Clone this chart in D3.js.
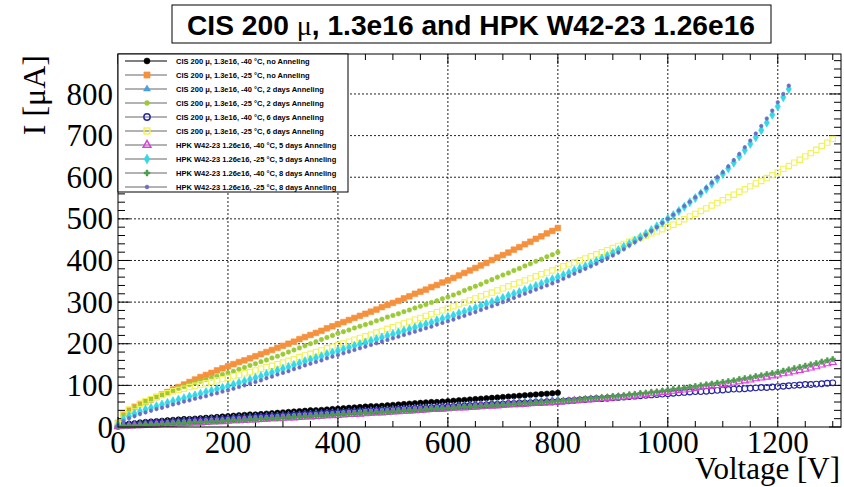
<!DOCTYPE html>
<html>
<head>
<meta charset="utf-8">
<script src="https://cdn.jsdelivr.net/npm/d3@7"></script>
<style>
  body { margin: 0; background: #fff; }
  .tick-label { font-family: "Liberation Serif", "Times New Roman", serif; font-size: 31px; fill: #000; }
  .legend-text { font-family: "Liberation Sans", Arial, sans-serif; font-size: 7.5px; font-weight: bold; fill: #000; }
</style>
</head>
<body>
<div id="chart"></div>
<script>
// voltage step of the measurements (V), every series starts at 0 V
const vStep = 10;

const seriesNames = [
  "CIS 200 μ, 1.3e16, -40 °C, no Anneling",
  "CIS 200 μ, 1.3e16, -25 °C, no Anneling",
  "CIS 200 μ, 1.3e16, -40 °C, 2 days Anneling",
  "CIS 200 μ, 1.3e16, -25 °C, 2 days Anneling",
  "CIS 200 μ, 1.3e16, -40 °C, 6 days Anneling",
  "CIS 200 μ, 1.3e16, -25 °C, 6 days Anneling",
  "HPK W42-23 1.26e16, -40 °C, 5 days Anneling",
  "HPK W42-23 1.26e16, -25 °C, 5 days Anneling",
  "HPK W42-23 1.26e16, -40 °C, 8 days Anneling",
  "HPK W42-23 1.26e16, -25 °C, 8 days Anneling"
];

// currents in uA
const cisM40NoAnn = [2,6,8,9,11,12,13,14,15,16,17,
  18,19,19,20,21,22,23,24,25,26, 27,28,29,30,30,31,32,33,34,35,
  36,37,38,39,40,40,41,42,43,44, 45,46,47,48,49,50,50,51,52,53,
  54,55,56,57,58,59,60,60,61,62, 63,64,65,66,67,68,69,70,71,72,
  73,74,75,76,77,78,79,80,81,82];

const cisM25NoAnn = [10,30,40,48,55,60,66,72,78,84,90,
  96,102,108,114,120,125,130,136,141,146, 151,156,160,165,170,175,180,185,190,195,
  200,205,211,216,221,226,231,237,242,247, 252,257,262,267,272,277,282,288,293,298,
  303,309,314,320,325,330,336,341,347,352, 358,364,370,376,382,388,394,401,407,413,
  419,426,432,439,445,452,458,465,471,478];

const cisM40Ann2 = [2,4,6,7,8,9,10,11,12,12,13,
  14,15,16,16,17,18,19,20,20,21, 22,23,23,24,25,25,26,27,27,28,
  29,30,30,31,32,33,33,34,35,36, 36,37,38,38,39,40,41,41,42,43,
  44,44,45,46,47,47,48,49,50,51, 51,52,53,54,54,55,56,56,57,58,
  59,60,60,61,62,63,63,64,65,66];

const cisM25Ann2 = [8,28,38,46,53,59,65,71,77,82,88,
  93,97,102,106,110,114,118,122,126,130, 134,139,143,148,152,157,161,166,170,175,
  180,185,190,195,200,205,210,215,220,225, 229,233,238,242,246,250,255,259,264,268,
  272,277,281,286,290,294,299,303,308,312, 317,322,328,333,338,343,349,354,360,365,
  370,376,381,387,392,398,403,409,414,420];

const cisM40Ann6 = [2,4,5,6,7,8,9,10,10,11,12,
  13,13,14,15,15,16,17,17,18,19, 20,21,21,22,23,24,24,25,26,27,
  27,28,29,30,30,31,32,33,33,34, 35,36,36,37,38,38,39,40,40,41,
  42,43,43,44,45,45,46,47,47,48, 49,50,50,51,52,52,53,54,54,55,
  56,56,57,57,58,59,59,60,60,61, 62,63,64,65,66,67,68,68,69,70,
  71,72,73,74,75,76,77,78,79,80, 81,82,83,84,85,85,86,87,88,89,
  90,91,91,92,93,94,95,95,96,97, 98,99,100,101,102,102,103,104,105,106];

const cisM25Ann6 = [8,30,42,50,56,62,67,72,77,81,86,
  89,92,96,99,102,105,108,112,115,118, 122,125,129,132,136,140,144,147,151,155,
  159,163,168,172,176,180,184,189,193,197, 201,205,210,214,218,222,227,231,236,240,
  244,249,253,258,262,267,271,276,280,285, 290,295,299,304,309,314,319,323,328,333,
  338,343,347,352,357,362,367,371,376,381, 386,391,395,400,405,410,415,420,425,430,
  435,440,445,450,455,460,465,470,475,480, 486,493,499,506,512,519,525,532,538,545,
  552,558,565,571,578,585,591,598,605,612, 620,627,635,642,650,658,666,675,683,692];

const hpkM40Ann5 = [1,2,2,3,3,4,5,5,6,6,7,
  8,8,9,10,10,11,12,13,13,14, 15,15,16,17,17,18,19,20,20,21,
  22,22,23,24,24,25,26,27,27,28, 29,30,30,31,32,33,34,34,35,36,
  37,38,38,39,40,41,42,42,43,44, 45,46,46,47,48,49,50,50,51,52,
  53,54,54,55,56,57,58,58,59,60, 61,62,63,64,65,66,67,68,69,70,
  71,72,74,75,77,78,80,81,83,84, 86,88,89,91,93,95,97,98,100,102,
  104,106,109,111,113,116,118,120,123,125, 128,130,133,136,139,142,145,149,152,155];

const hpkM25Ann5 = [5,18,26,32,37,42,46,50,54,58,62,
  66,69,73,76,80,84,87,91,94,98, 102,106,110,114,118,122,127,131,136,140,
  144,149,153,158,162,166,170,175,179,183, 187,191,195,199,203,207,211,215,219,223,
  227,231,235,239,243,247,251,256,260,264, 268,273,277,282,286,291,296,300,305,310,
  315,320,324,329,334,339,344,350,355,360, 365,370,376,381,386,392,398,405,411,418,
  425,433,440,448,456,464,473,482,491,500, 509,519,529,540,550,561,572,584,596,608,
  621,635,650,665,680,696,713,731,750,770, 792,812];

const hpkM40Ann8 = [1,2,3,3,4,5,5,6,7,7,8,
  9,9,10,11,11,12,13,13,14,15, 16,16,17,18,18,19,20,21,21,22,
  23,24,24,25,26,27,27,28,29,30, 31,31,32,33,34,34,35,36,36,37,
  38,39,40,40,41,42,43,44,44,45, 46,47,48,48,49,50,51,52,52,53,
  54,55,56,57,57,58,59,60,61,62, 63,64,65,66,68,69,70,71,72,74,
  75,76,78,79,81,82,84,85,87,89, 91,92,94,96,98,100,102,104,106,108,
  110,112,115,117,119,122,124,127,129,132, 135,138,141,144,147,150,153,157,160,163];

const hpkM25Ann8 = [3,14,21,26,31,35,39,43,46,50,54,
  57,61,64,68,71,74,78,81,85,88, 92,96,100,104,108,112,117,121,126,130,
  134,139,143,148,152,156,160,165,169,173, 177,181,185,189,193,197,201,205,209,213,
  217,221,225,229,233,237,241,246,250,254, 258,263,267,272,276,281,286,290,295,300,
  305,310,315,320,325,330,335,340,345,350, 356,362,368,374,380,386,392,399,405,412,
  419,427,436,444,452,461,471,480,490,500, 510,520,531,541,552,563,575,587,600,612,
  626,641,656,672,688,705,723,741,760,780, 800,820];

const xTicks = [0, 200, 400, 600, 800, 1000, 1200];
const yTicks = [0, 100, 200, 300, 400, 500, 600, 700, 800];

const allSeries = [cisM40NoAnn, cisM25NoAnn, cisM40Ann2, cisM25Ann2, cisM40Ann6,
  cisM25Ann6, hpkM40Ann5, hpkM25Ann5, hpkM40Ann8, hpkM25Ann8];

// marker look per series (ROOT-like)
const markerStyle = [
  { color: "#000000", type: d3.symbolCircle, size: 24, open: false },
  { color: "#f5913c", type: d3.symbolSquare, size: 32, open: false },
  { color: "#4a9fe0", type: d3.symbolTriangle, size: 18, open: false },
  { color: "#9cc936", type: d3.symbolCircle, size: 16, open: false },
  { color: "#2626a6", type: d3.symbolCircle, size: 26, open: true },
  { color: "#f2f25a", type: d3.symbolSquare, size: 28, open: true },
  { color: "#dd3fdd", type: d3.symbolTriangle, size: 22, open: true },
  { color: "#35d8e6", type: d3.symbolDiamond, size: 24, open: false },
  { color: "#4f9e4f", type: d3.symbolCross, size: 16, open: false },
  { color: "#6c6cc4", type: d3.symbolCircle, size: 10, open: false }
];

const width = 844, height = 487;
const margin = { left: 118, right: 3, top: 54, bottom: 60 };

const svg = d3.select("#chart").append("svg")
  .attr("width", width)
  .attr("height", height);

const x = d3.scaleLinear().domain([0, 1315]).range([margin.left, width - margin.right]);
const y = d3.scaleLinear().domain([0, 896]).range([height - margin.bottom, margin.top]);

const x0 = x.range()[0], x1 = x.range()[1];
const y0 = y.range()[0], y1 = y.range()[1];

// grid
const grid = svg.append("g").attr("stroke", "#222").attr("stroke-dasharray", "2,2").attr("stroke-width", 1);
xTicks.filter(t => t > 0).forEach(t => {
  grid.append("line").attr("x1", x(t)).attr("x2", x(t)).attr("y1", y0).attr("y2", y1);
});
yTicks.filter(t => t > 0).forEach(t => {
  grid.append("line").attr("x1", x0).attr("x2", x1).attr("y1", y(t)).attr("y2", y(t));
});

// axes ticks on all four sides
const tickG = svg.append("g").attr("stroke", "#000").attr("stroke-width", 1);
d3.range(0, 1301, 50).forEach(v => {
  const len = v % 200 === 0 ? 10 : 6;
  tickG.append("line").attr("x1", x(v)).attr("x2", x(v)).attr("y1", y0).attr("y2", y0 - len);
  tickG.append("line").attr("x1", x(v)).attr("x2", x(v)).attr("y1", y1).attr("y2", y1 + len);
});
d3.range(0, 881, 20).forEach(v => {
  const len = v % 100 === 0 ? 12 : 7;
  tickG.append("line").attr("x1", x0).attr("x2", x0 + len).attr("y1", y(v)).attr("y2", y(v));
  tickG.append("line").attr("x1", x1).attr("x2", x1 - len).attr("y1", y(v)).attr("y2", y(v));
});

// data points
allSeries.forEach((vals, i) => {
  const st = markerStyle[i];
  const sym = d3.symbol().type(st.type).size(st.size);
  svg.append("g")
    .selectAll("path")
    .data(vals)
    .enter().append("path")
    .attr("transform", (d, j) => `translate(${x(j * vStep)},${y(d)})`)
    .attr("d", sym)
    .attr("fill", st.open ? "none" : st.color)
    .attr("stroke", st.color)
    .attr("stroke-width", st.open ? 1.1 : 0.6);
});

// frame
svg.append("rect")
  .attr("x", x0).attr("y", y1)
  .attr("width", x1 - x0).attr("height", y0 - y1)
  .attr("fill", "none").attr("stroke", "#000").attr("stroke-width", 1);

// tick labels
svg.append("g").selectAll("text").data(yTicks).enter().append("text")
  .attr("class", "tick-label")
  .attr("x", 113).attr("y", d => y(d))
  .attr("dy", "0.34em")
  .attr("text-anchor", "end")
  .text(d => d);

svg.append("g").selectAll("text").data(xTicks).enter().append("text")
  .attr("class", "tick-label")
  .attr("x", d => x(d)).attr("y", 453)
  .attr("text-anchor", "middle")
  .text(d => d);

// axis titles
svg.append("text")
  .attr("class", "tick-label")
  .attr("x", 840).attr("y", 479)
  .attr("text-anchor", "end")
  .style("font-size", "31px")
  .text("Voltage [V]");

svg.append("text")
  .attr("class", "tick-label")
  .attr("transform", "translate(45,55) rotate(-90)")
  .attr("text-anchor", "end")
  .style("font-size", "32px")
  .text("I [μA]");

// title box
svg.append("rect")
  .attr("x", 172).attr("y", 5).attr("width", 599).attr("height", 38)
  .attr("fill", "#fff").attr("stroke", "#000").attr("stroke-width", 1);
const title = svg.append("text")
  .attr("x", 471).attr("y", 35)
  .attr("text-anchor", "middle")
  .attr("textLength", 568)
  .attr("lengthAdjust", "spacingAndGlyphs")
  .style("font-family", "'Liberation Sans', Arial, sans-serif")
  .style("font-weight", "bold")
  .style("font-size", "28px");
title.append("tspan").text("CIS 200 ");
title.append("tspan").style("font-family", "'Liberation Serif', serif").style("font-weight", "normal").text("μ");
title.append("tspan").text(", 1.3e16 and HPK W42-23 1.26e16");

// legend
const leg = svg.append("g");
leg.append("rect")
  .attr("x", 118).attr("y", 54).attr("width", 230).attr("height", 138)
  .attr("fill", "#fff").attr("stroke", "#000").attr("stroke-width", 1);

seriesNames.forEach((name, i) => {
  const ly = 61 + i * 14;
  const st = markerStyle[i];
  leg.append("line")
    .attr("x1", 125).attr("x2", 167).attr("y1", ly).attr("y2", ly)
    .attr("stroke", i === 0 ? "#000" : "#666").attr("stroke-width", 1);
  leg.append("path")
    .attr("transform", `translate(147,${ly})`)
    .attr("d", d3.symbol().type(st.type).size(st.size * 1.2))
    .attr("fill", st.open ? "none" : st.color)
    .attr("stroke", st.color)
    .attr("stroke-width", st.open ? 1.5 : 0.5);
  leg.append("text")
    .attr("class", "legend-text")
    .attr("x", 176).attr("y", ly)
    .attr("dy", "0.35em")
    .text(name);
});
</script>
</body>
</html>
